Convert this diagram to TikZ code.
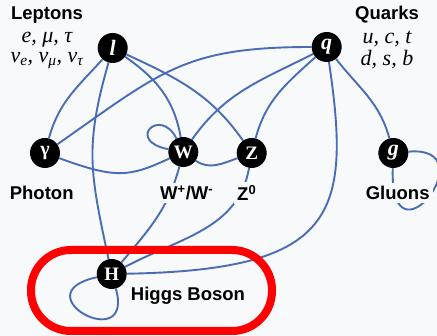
\documentclass[tikz,border=0pt]{standalone}
\usepackage{fontspec}
\setmainfont{Liberation Serif}
\newfontfamily\labelsans{Liberation Sans}
\usetikzlibrary{backgrounds}

\definecolor{paper}{RGB}{248,249,250}
\definecolor{linkblue}{RGB}{72,108,184}
\definecolor{ringred}{RGB}{255,0,0}

\pgfdeclarelayer{backdrop}
\pgfdeclarelayer{links}
\pgfsetlayers{backdrop,links,main}

\tikzset{
  particle/.style={circle, fill=black, text=white, minimum size=30pt,
    inner sep=0pt, font=\bfseries\fontsize{19}{19}\selectfont},
  italicletter/.style={font=\bfseries\itshape\fontsize{22}{22}\selectfont},
  link/.style={draw=linkblue, line width=1.9pt},
  caption/.style={fill=paper, inner sep=3pt, text=black,
    font=\labelsans\bfseries\fontsize{18.5}{20}\selectfont},
  family/.style={inner sep=0pt, text=black,
    font=\itshape\fontsize{22}{22}\selectfont},
}

\begin{document}
\begin{tikzpicture}[x=1pt,y=1pt]
\begin{pgfonlayer}{backdrop}
  \fill[paper] (0,0) rectangle (437,336);
\end{pgfonlayer}
\useasboundingbox (0,0) rectangle (437,336);

% particles
\node[particle, italicletter] (l)   at (112.7,288) {l};
\node[particle, italicletter] (q)   at (326.7,289) {q};
\node[particle, font=\bfseries\fontsize{20}{20}\selectfont] (gam) at (45,183) {γ};
\node[particle] (W)   at (183.3,184) {W};
\node[particle] (Z)   at (251.7,183) {Z};
\node[particle, italicletter] (g)   at (393.3,183) {g};
\node[particle] (H)   at (111.7,62) {H};

% interactions
\begin{pgfonlayer}{links}
  \draw[link] (l) to[out=228,in=75] (gam);
  \draw[link] (l) to[out=254,in=102,looseness=1.15] (H);
  \draw[link] (l) to[out=-35,in=100] (W);
  \draw[link] (l) to[out=-25,in=125] (Z);
  \draw[link] (q) to[out=180,in=35,looseness=1.2] (gam);
  \draw[link] (q) to[out=207,in=55] (W);
  \draw[link] (q) to[out=222,in=75] (Z);
  \draw[link] (q) .. controls (352,120) and (335,66) .. (H);
  \draw[link] (q) to[out=-52,in=105] (g);
  \draw[link] (g) to[out=5,in=-92,out distance=80pt,in distance=105pt] (g);
  \draw[link] (gam) to[out=-20,in=205,out distance=60pt,in distance=45pt] (W);
  \draw[link] (W) .. controls (125,195) and (160,230) .. (W);
  \draw[link] (W) to[out=-35,in=200] (Z);
  \draw[link] (W) to[out=-105,in=50] (H);
  \draw[link] (Z) to[out=-100,in=28] (H);
  \draw[link] (H) .. controls (20,42) and (135,-20) .. (H);
\end{pgfonlayer}

% family headings
\node[caption, fill=none] (lep) at (47,321) {Leptons};
\node[family] (lep1) at (47,296) {e, μ, τ};
\node[family] (lep2) at (47,275) {ν\textsubscript{e}, ν\textsubscript{μ}, ν\textsubscript{τ}};
\node[caption, fill=none] (qua) at (387,321) {Quarks};
\node[family] (qua1) at (387,297) {u, c, t};
\node[family] (qua2) at (387,276) {d, s, b};

% particle names
\node[caption] (photon) at (41.7,143) {Photon};
\node[caption] (wname)  at (186.7,143) {W\textsuperscript{+}/W\textsuperscript{-}};
\node[caption] (zname)  at (246.7,143) {Z\textsuperscript{0}};
\node[caption] (gluon)  at (397.7,143) {Gluons};
\node[caption] (higgs)  at (188,40) {Higgs Boson};

% highlight around the Higgs boson
\draw[ringred, line width=8pt, rounded corners=40pt] (31,5) rectangle (272,86);
\end{tikzpicture}
\end{document}
